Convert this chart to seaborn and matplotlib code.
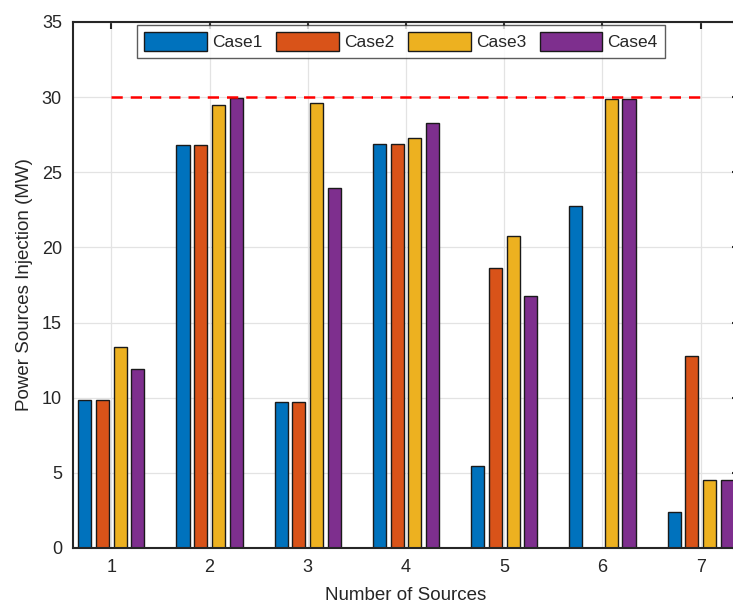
import pandas as pd
import numpy as np
import matplotlib
matplotlib.use("Agg")
import matplotlib.pyplot as plt
import seaborn as sns

# data
sources = ["1", "2", "3", "4", "5", "6", "7"]
case1 = [9.85, 26.8, 9.7, 26.9, 5.45, 22.75, 2.4]
case2 = [9.85, 26.8, 9.7, 26.9, 18.65, 0.0, 12.75]
case3 = [13.35, 29.45, 29.6, 27.25, 20.75, 29.85, 4.5]
case4 = [11.9, 29.95, 23.95, 28.25, 16.8, 29.85, 4.5]
cases = ["Case1", "Case2", "Case3", "Case4"]
limit = 30

colors = ["#0072BD", "#D95319", "#EDB120", "#7E2F8E"]

df = pd.DataFrame({"Case1": case1, "Case2": case2, "Case3": case3, "Case4": case4},
                  index=sources)
df = df.reset_index().rename(columns={"index": "Source"})
long = df.melt(id_vars="Source", var_name="Case", value_name="Power")

sns.set_style("white")
plt.rcParams["font.family"] = ["Liberation Sans", "DejaVu Sans"]

fig = plt.figure(figsize=(7.33, 6.08), dpi=100)
ax = fig.add_axes([73 / 733, 1 - 548 / 608, (739 - 73) / 733, (548 - 22) / 608])

sns.barplot(data=long, x="Source", y="Power", hue="Case", hue_order=cases,
            palette=colors, width=0.72, gap=0.26, edgecolor="#1a1a1a",
            linewidth=1.0, saturation=1, ax=ax, legend=True)

# red dashed limit line
ax.plot([0, 6], [limit, limit], color="#ff0000", linestyle=(0, (4.5, 3.2)),
        linewidth=1.8, zorder=3)

ax.set_xlim(-0.39, 6.39)
ax.set_ylim(0, 35)
ax.set_yticks(np.arange(0, 36, 5))
ax.grid(True, color="#e3e3e3", linewidth=0.9)
ax.set_axisbelow(True)
for s in ax.spines.values():
    s.set_color("#262626")
    s.set_linewidth(1.5)
ax.tick_params(direction="in", top=True, right=True, length=5, width=1.5,
               colors="#262626", labelsize=13, pad=8)
ax.set_xlabel("Number of Sources", fontsize=13.5, color="#262626", labelpad=8)
ax.set_ylabel("Power Sources Injection (MW)", fontsize=13.5, color="#262626", labelpad=6)

leg = ax.legend(loc="upper center", bbox_to_anchor=(0.4925, 0.994), ncol=4,
                fontsize=12.5, frameon=True, fancybox=False, handlelength=3.6,
                handleheight=1.3, handletextpad=0.3, columnspacing=0.8,
                borderpad=0.4, borderaxespad=0.0)
leg.get_frame().set_edgecolor("#333333")
leg.get_frame().set_linewidth(1.0)
for h in leg.legend_handles:
    h.set_edgecolor("#1a1a1a")

fig.savefig("out.png", dpi=100)
